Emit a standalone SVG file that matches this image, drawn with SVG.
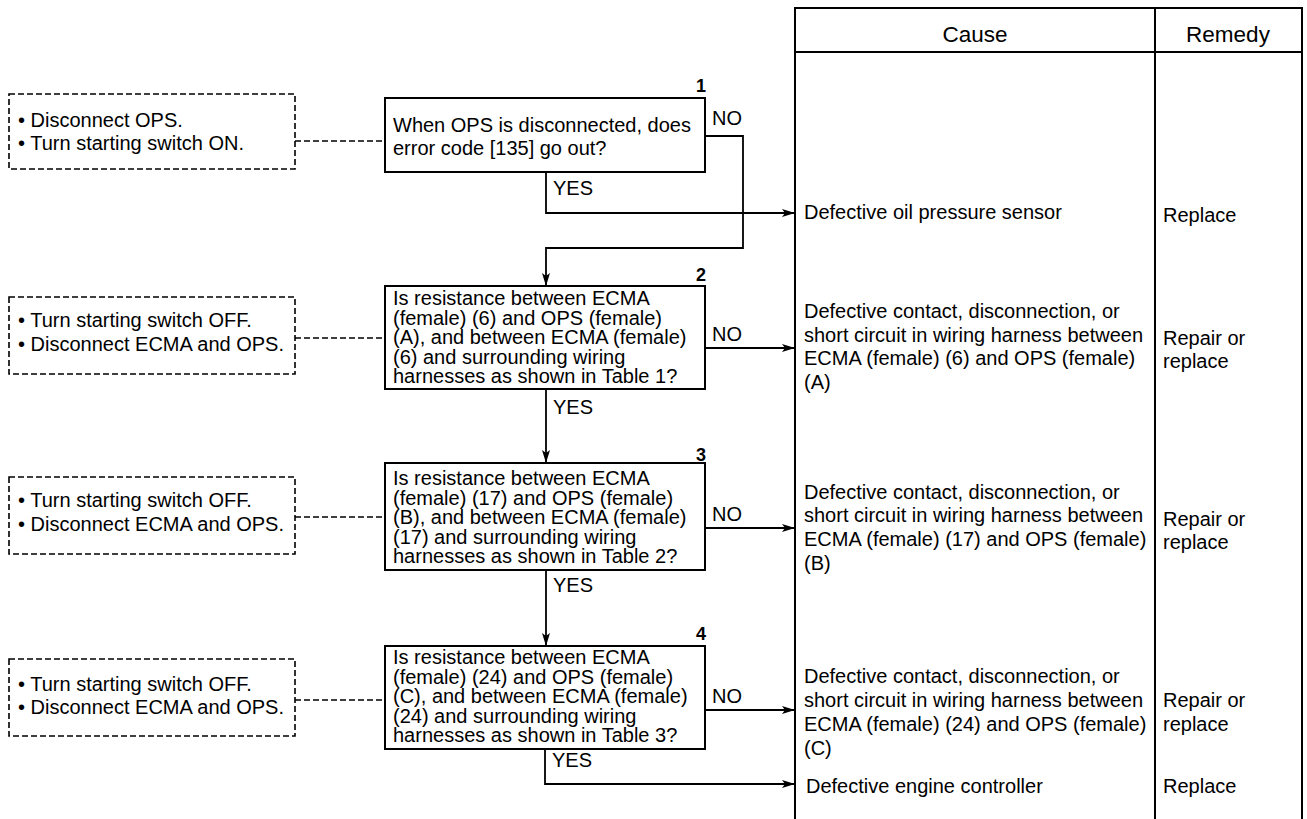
<svg xmlns="http://www.w3.org/2000/svg" width="1307" height="819" viewBox="0 0 1307 819">
  <style>
    text { font-family: "Liberation Sans", Arial, sans-serif; font-size: 20px; fill: #000; }
    .num { font-weight: bold; font-size: 18px; text-anchor: end; }
    .hdr { font-size: 22.5px; text-anchor: middle; }
    .box { fill: #fff; stroke: #000; stroke-width: 2; }
    .cond { fill: #fff; stroke: #000; stroke-width: 1.6; stroke-dasharray: 6 3; }
    .dash { fill: none; stroke: #000; stroke-width: 1.6; stroke-dasharray: 6 3; }
    .flow { fill: none; stroke: #000; stroke-width: 1.8; }
    .grid { fill: none; stroke: #000; stroke-width: 2; }
  </style>
  <defs>
    <marker id="arrow" markerUnits="userSpaceOnUse" markerWidth="14" markerHeight="10" refX="13" refY="4" orient="auto">
      <path d="M0,0 L13,4 L0,8 L3,4 Z" fill="#000"/>
    </marker>
  </defs>
  <rect width="1307" height="819" fill="#fff"/>

  <!-- Cause / Remedy table -->
  <g id="table">
    <path class="grid" d="M795,819 V8 H1302 V819 M1155,8 V819 M795,52 H1302"/>
    <text class="hdr" x="975" y="42">Cause</text>
    <text class="hdr" x="1228" y="42">Remedy</text>
  </g>

  <!-- Connectors -->
  <g id="connectors">
    <!-- check-condition links -->
    <path class="dash" d="M295,141 H385"/>
    <path class="dash" d="M295,338 H385"/>
    <path class="dash" d="M295,517 H385"/>
    <path class="dash" d="M295,700 H385"/>
    <!-- step 1 -->
    <path class="flow" d="M705,136 H743 V248 H546 V286" marker-end="url(#arrow)"/>
    <path class="flow" d="M546,172 V213 H795" marker-end="url(#arrow)"/>
    <!-- step 2 -->
    <path class="flow" d="M705,348 H795" marker-end="url(#arrow)"/>
    <path class="flow" d="M546,389 V463" marker-end="url(#arrow)"/>
    <!-- step 3 -->
    <path class="flow" d="M705,528 H795" marker-end="url(#arrow)"/>
    <path class="flow" d="M546,570 V646" marker-end="url(#arrow)"/>
    <!-- step 4 -->
    <path class="flow" d="M705,710 H795" marker-end="url(#arrow)"/>
    <path class="flow" d="M545,749 V784 H795" marker-end="url(#arrow)"/>
    <!-- branch labels -->
    <text x="712" y="125">NO</text>
    <text x="553" y="195">YES</text>
    <text x="712" y="341">NO</text>
    <text x="553" y="414">YES</text>
    <text x="712" y="521">NO</text>
    <text x="553" y="592">YES</text>
    <text x="712" y="703">NO</text>
    <text x="552" y="767">YES</text>
  </g>

  <!-- Check conditions -->
  <g id="prep1">
    <rect class="cond" x="9" y="94" width="286" height="75"/>
    <text x="18" y="127">• Disconnect OPS.</text>
    <text x="18" y="150">• Turn starting switch ON.</text>
  </g>
  <g id="prep2">
    <rect class="cond" x="9" y="297" width="286" height="77"/>
    <text x="18" y="327">• Turn starting switch OFF.</text>
    <text x="18" y="351">• Disconnect ECMA and OPS.</text>
  </g>
  <g id="prep3">
    <rect class="cond" x="9" y="477" width="286" height="77"/>
    <text x="18" y="507">• Turn starting switch OFF.</text>
    <text x="18" y="531">• Disconnect ECMA and OPS.</text>
  </g>
  <g id="prep4">
    <rect class="cond" x="9" y="659" width="286" height="77"/>
    <text x="18" y="691">• Turn starting switch OFF.</text>
    <text x="18" y="714">• Disconnect ECMA and OPS.</text>
  </g>

  <!-- Decision steps -->
  <g id="step1">
    <rect class="box" x="385" y="98" width="320" height="74"/>
    <text class="num" x="706" y="92">1</text>
    <text x="393" y="132">When OPS is disconnected, does</text>
    <text x="393" y="155">error code [135] go out?</text>
  </g>
  <g id="step2">
    <rect class="box" x="385" y="286" width="320" height="103"/>
    <text class="num" x="706" y="281">2</text>
    <text x="393" y="305">Is resistance between ECMA</text>
    <text x="393" y="324.5">(female) (6) and OPS (female)</text>
    <text x="393" y="344">(A), and between ECMA (female)</text>
    <text x="393" y="363.5">(6) and surrounding wiring</text>
    <text x="393" y="383">harnesses as shown in Table 1?</text>
  </g>
  <g id="step3">
    <rect class="box" x="385" y="463" width="320" height="107"/>
    <text class="num" x="706" y="461">3</text>
    <text x="393" y="485">Is resistance between ECMA</text>
    <text x="393" y="504.5">(female) (17) and OPS (female)</text>
    <text x="393" y="524">(B), and between ECMA (female)</text>
    <text x="393" y="543.5">(17) and surrounding wiring</text>
    <text x="393" y="563">harnesses as shown in Table 2?</text>
  </g>
  <g id="step4">
    <rect class="box" x="385" y="646" width="320" height="103"/>
    <text class="num" x="706" y="640">4</text>
    <text x="393" y="664">Is resistance between ECMA</text>
    <text x="393" y="683.5">(female) (24) and OPS (female)</text>
    <text x="393" y="703">(C), and between ECMA (female)</text>
    <text x="393" y="722.5">(24) and surrounding wiring</text>
    <text x="393" y="742">harnesses as shown in Table 3?</text>
  </g>

  <!-- Causes and remedies -->
  <g id="result1">
    <text x="804" y="219">Defective oil pressure sensor</text>
    <text x="1163" y="222">Replace</text>
  </g>
  <g id="result2">
    <text x="804" y="318">Defective contact, disconnection, or</text>
    <text x="804" y="341.5">short circuit in wiring harness between</text>
    <text x="804" y="365">ECMA (female) (6) and OPS (female)</text>
    <text x="804" y="388.5">(A)</text>
    <text x="1163" y="345">Repair or</text>
    <text x="1163" y="368">replace</text>
  </g>
  <g id="result3">
    <text x="804" y="499">Defective contact, disconnection, or</text>
    <text x="804" y="522">short circuit in wiring harness between</text>
    <text x="804" y="546">ECMA (female) (17) and OPS (female)</text>
    <text x="804" y="570">(B)</text>
    <text x="1163" y="526">Repair or</text>
    <text x="1163" y="549">replace</text>
  </g>
  <g id="result4">
    <text x="804" y="683">Defective contact, disconnection, or</text>
    <text x="804" y="707">short circuit in wiring harness between</text>
    <text x="804" y="731">ECMA (female) (24) and OPS (female)</text>
    <text x="804" y="755">(C)</text>
    <text x="1163" y="707">Repair or</text>
    <text x="1163" y="731">replace</text>
  </g>
  <g id="result5">
    <text x="806" y="793">Defective engine controller</text>
    <text x="1163" y="793">Replace</text>
  </g>
</svg>
